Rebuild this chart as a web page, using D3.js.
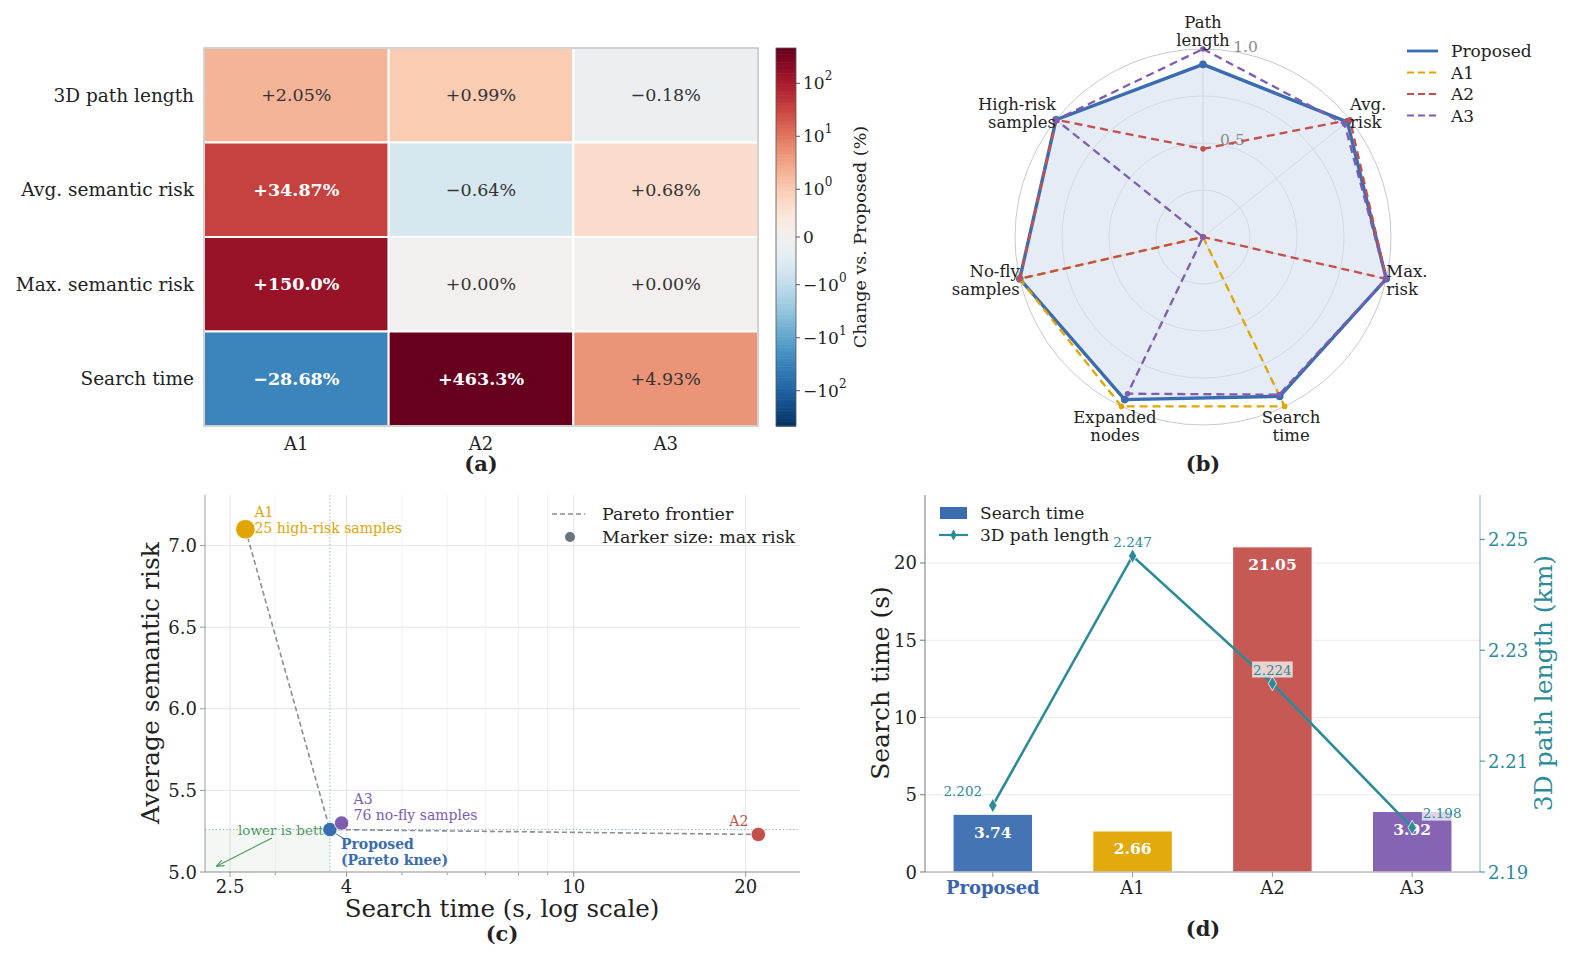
<!DOCTYPE html>
<html>
<head>
<meta charset="utf-8">
<script src="https://cdn.jsdelivr.net/npm/d3@7"></script>
<style>
body { margin: 0; background: #fff; }
text { font-family: "DejaVu Serif", serif; fill: #222; }
</style>
</head>
<body>
<svg id="fig" width="1585" height="965"></svg>
<script>
////////////////////// data //////////////////////
var methods = ['Proposed', 'A1', 'A2', 'A3'];
var baselines = ['A1', 'A2', 'A3'];
var metricRows = ['3D path length', 'Avg. semantic risk', 'Max. semantic risk', 'Search time'];
var pctPath = [2.05, 0.99, -0.18];
var pctAvgRisk = [34.87, -0.64, 0.68];
var pctMaxRisk = [150.0, 0.00, 0.00];
var pctTime = [-28.68, 463.3, 4.93];
var cbTicks = [100, 10, 1, 0, -1, -10, -100];

var radarAxes = ['Path\nlength', 'Avg.\nrisk', 'Max.\nrisk', 'Search\ntime', 'Expanded\nnodes', 'No-fly\nsamples', 'High-risk\nsamples'];
var radarProposed = [0.918, 0.982, 1.0, 0.941, 0.96, 1.0, 1.0];
var radarA1 = [0, 0, 0, 1, 1, 1, 0];
var radarA2 = [0.469, 1, 1, 0, 0, 1, 1];
var radarA3 = [1, 0.963, 1, 0.931, 0.925, 0, 1];
var radarTicks = [0.25, 0.5, 0.75, 1.0];
var radarTickLabels = ['', '0.5', '', '1.0'];

var searchTime = [3.74, 2.66, 21.05, 3.92];
var avgRisk = [5.26, 7.10, 5.23, 5.30];
var maxRisk = [4.0, 10.0, 4.0, 4.0];
var pathLen = [2.202, 2.247, 2.224, 2.198];
var paretoOrder = ['A1', 'Proposed', 'A2'];
var notes = ['', '25 high-risk samples', '', '76 no-fly samples'];

var timeTicks = [2.5, 4, 10, 20];
var timeMinor = [3, 5, 6, 7, 8, 9];
var riskTicks = [5.0, 5.5, 6.0, 6.5, 7.0];
var barTicks = [0, 5, 10, 15, 20];
var lenTicks = [2.19, 2.21, 2.23, 2.25];

var colors = ['#3a6db0', '#e0a500', '#c4504c', '#7e5cb0'];
var teal = '#2b8b99';

var svg = d3.select('#fig');

function panelTag(x, y, t) {
	svg.append('text').attr('x', x).attr('y', y).attr('text-anchor', 'middle')
		.attr('dominant-baseline', 'central').style('font-size', '21px').style('font-weight', 'bold').text(t);
}

////////////////////// (a) heatmap //////////////////////
var heat = [pctPath, pctAvgRisk, pctMaxRisk, pctTime];
var hx = d3.scaleBand().domain(baselines).range([204, 758]);
var hy = d3.scaleBand().domain(metricRows).range([48, 426]);

function symlog(v) {
	var a = Math.abs(v);
	return Math.sign(v) * (a <= 1 ? 0.9 * a : 0.9 + Math.log10(a));
}
var F = symlog(d3.max(heat, function(r) { return d3.max(r, Math.abs); }));
var cbY = d3.scaleLinear().domain([-F, F]).range([426, 48]);
function heatColor(f) { return d3.interpolateRdBu(0.5 - f / F / 2); }
function pct(v) {
	var a = Math.abs(v);
	return (v < 0 ? '\u2212' : '+') + (a >= 100 ? a.toFixed(1) : a.toFixed(2)) + '%';
}

var ga = svg.append('g');
heat.forEach(function(row, ri) {
	row.forEach(function(v, ci) {
		var f = symlog(v);
		var strong = Math.abs(f / F) > 0.6;
		ga.append('rect')
			.attr('x', hx(baselines[ci])).attr('y', hy(metricRows[ri]))
			.attr('width', hx.bandwidth()).attr('height', hy.bandwidth())
			.attr('fill', heatColor(f)).attr('stroke', '#fff').attr('stroke-width', 2);
		ga.append('text')
			.attr('x', hx(baselines[ci]) + hx.bandwidth() / 2)
			.attr('y', hy(metricRows[ri]) + hy.bandwidth() / 2)
			.attr('text-anchor', 'middle').attr('dominant-baseline', 'central')
			.style('font-size', '17.5px')
			.style('font-weight', strong ? 'bold' : 'normal')
			.style('fill', strong ? '#fff' : '#333')
			.text(pct(v));
	});
});
ga.append('rect').attr('x', 204).attr('y', 48).attr('width', 554).attr('height', 378)
	.attr('fill', 'none').attr('stroke', '#b5b5b5').attr('stroke-width', 1.2);
metricRows.forEach(function(m) {
	ga.append('text').attr('x', 194).attr('y', hy(m) + hy.bandwidth() / 2)
		.attr('text-anchor', 'end').attr('dominant-baseline', 'central')
		.style('font-size', '18.5px').text(m);
});
baselines.forEach(function(b) {
	ga.append('text').attr('x', hx(b) + hx.bandwidth() / 2).attr('y', 443)
		.attr('text-anchor', 'middle').attr('dominant-baseline', 'central')
		.style('font-size', '18px').text(b);
});
panelTag(481, 463, '(a)');

// colorbar
var nSlices = 240;
for (var k = 0; k < nSlices; k++) {
	var f0 = -F + 2 * F * k / nSlices, f1 = -F + 2 * F * (k + 1) / nSlices;
	ga.append('rect').attr('x', 776).attr('y', cbY(f1)).attr('width', 20)
		.attr('height', cbY(f0) - cbY(f1) + 0.6).attr('fill', heatColor((f0 + f1) / 2));
}
ga.append('rect').attr('x', 776).attr('y', 48).attr('width', 20).attr('height', 378)
	.attr('fill', 'none').attr('stroke', '#555').attr('stroke-width', 0.8);
cbTicks.forEach(function(t) {
	var y = cbY(symlog(t));
	ga.append('line').attr('x1', 796).attr('x2', 800).attr('y1', y).attr('y2', y).attr('stroke', '#555');
	var tx = ga.append('text').attr('x', 803).attr('y', y)
		.attr('dominant-baseline', 'central').style('font-size', '17px');
	if (t === 0) {
		tx.text('0');
	} else {
		tx.append('tspan').text((t < 0 ? '\u2212' : '') + '10');
		tx.append('tspan').attr('dy', -7).style('font-size', '12px').text(Math.round(Math.log10(Math.abs(t))));
	}
});
ga.append('text').attr('transform', 'translate(860,237) rotate(-90)')
	.attr('text-anchor', 'middle').attr('dominant-baseline', 'central')
	.style('font-size', '17.5px').text('Change vs. Proposed (%)');

////////////////////// (b) radar //////////////////////
var cx = 1203, cy = 237, R = 188;
var rr = d3.scaleLinear().domain([0, 1]).range([0, R]);
var nAx = radarAxes.length;
function ang(i) { return i * 2 * Math.PI / nAx; }
var gb = svg.append('g').attr('transform', 'translate(' + cx + ',' + cy + ')');
var radarSeries = [radarProposed, radarA1, radarA2, radarA3];

var radial = d3.lineRadial()
	.angle(function(d, i) { return ang(i); })
	.radius(function(d) { return rr(d); })
	.curve(d3.curveLinearClosed);

gb.append('path').attr('d', radial(radarProposed)).attr('fill', colors[0]).attr('fill-opacity', 0.13);

radarTicks.forEach(function(t) {
	gb.append('circle').attr('r', rr(t)).attr('fill', 'none')
		.attr('stroke', t === 1 ? '#bfc3cb' : '#d3d7de').attr('stroke-width', 0.9);
});
d3.range(nAx).forEach(function(i) {
	gb.append('line').attr('x1', 0).attr('y1', 0)
		.attr('x2', R * Math.sin(ang(i))).attr('y2', -R * Math.cos(ang(i)))
		.attr('stroke', '#d3d7de').attr('stroke-width', 0.9);
});
radarTicks.forEach(function(t, i) {
	if (!radarTickLabels[i]) return;
	var a = 0.14;
	gb.append('text').attr('x', rr(t) * Math.sin(a) + 4).attr('y', -rr(t) * Math.cos(a) - 4)
		.attr('dominant-baseline', 'central').style('font-size', '15.5px').style('fill', '#8a8a8a')
		.text(radarTickLabels[i]);
});

radarSeries.forEach(function(s, si) {
	gb.append('path').attr('d', radial(s)).attr('fill', 'none')
		.attr('stroke', colors[si]).attr('stroke-width', si === 0 ? 3.4 : 2.3)
		.attr('stroke-dasharray', si === 0 ? null : '8,5');
	s.forEach(function(v, i) {
		gb.append('circle').attr('cx', rr(v) * Math.sin(ang(i))).attr('cy', -rr(v) * Math.cos(ang(i)))
			.attr('r', si === 0 ? 3.8 : 2.8).attr('fill', colors[si]);
	});
});

radarAxes.forEach(function(lab, i) {
	var s = Math.sin(ang(i)), c = Math.cos(ang(i));
	var px = R * s, py = -R * c;
	var lines = lab.split('\n');
	var t = gb.append('text').style('font-size', '16.5px');
	var x, y0, anchor;
	if (Math.abs(s) > 0.6) {
		anchor = s > 0 ? 'start' : 'end';
		x = px;
		y0 = py - c * 10 - 4;
	} else if (c > 0) {
		anchor = 'middle';
		x = px;
		y0 = py - 3 - 18;
	} else {
		anchor = 'middle';
		x = px + s * 15;
		y0 = py + 17;
	}
	t.attr('text-anchor', anchor);
	lines.forEach(function(l, li) {
		t.append('tspan').attr('x', x).attr('y', y0 + li * 18).text(l);
	});
});

// radar legend
var gl = svg.append('g').attr('transform', 'translate(1407,51)');
methods.forEach(function(m, i) {
	gl.append('line').attr('x1', 0).attr('x2', 31).attr('y1', i * 21.5).attr('y2', i * 21.5)
		.attr('stroke', colors[i]).attr('stroke-width', i === 0 ? 2.8 : 2)
		.attr('stroke-dasharray', i === 0 ? null : '7,4');
	gl.append('text').attr('x', 44).attr('y', i * 21.5).attr('dominant-baseline', 'central')
		.style('font-size', '17px').text(m);
});
panelTag(1203, 463, '(b)');

////////////////////// (c) scatter //////////////////////
var cL = 205, cR = 800, cT = 495, cB = 872;
var sx = d3.scaleLog().domain([2.26, 24.9]).range([cL, cR]);
var sy = d3.scaleLinear().domain([5.0, 7.31]).range([cB, cT]);
var msize = d3.scaleLinear().domain([4, 10]).range([7.2, 9.8]);
var gc = svg.append('g');

timeMinor.forEach(function(t) {
	gc.append('line').attr('x1', sx(t)).attr('x2', sx(t)).attr('y1', cT).attr('y2', cB)
		.attr('stroke', '#eeeff3').attr('stroke-width', 0.8);
	gc.append('line').attr('x1', sx(t)).attr('x2', sx(t)).attr('y1', cB).attr('y2', cB + 3)
		.attr('stroke', '#999');
});
timeTicks.forEach(function(t) {
	gc.append('line').attr('x1', sx(t)).attr('x2', sx(t)).attr('y1', cT).attr('y2', cB)
		.attr('stroke', '#e3e5ea').attr('stroke-width', 1);
});
riskTicks.forEach(function(t) {
	gc.append('line').attr('x1', cL).attr('x2', cR).attr('y1', sy(t)).attr('y2', sy(t))
		.attr('stroke', '#e3e5ea').attr('stroke-width', 1);
});

var pIdx = methods.indexOf('Proposed');
// "better" region
gc.append('rect').attr('x', cL).attr('y', sy(avgRisk[pIdx]))
	.attr('width', sx(searchTime[pIdx]) - cL).attr('height', cB - sy(avgRisk[pIdx]))
	.attr('fill', '#2e8b3e').attr('fill-opacity', 0.06);
gc.append('clipPath').attr('id', 'betterClip').append('rect')
	.attr('x', cL).attr('y', cT).attr('width', sx(searchTime[pIdx]) - cL - 6).attr('height', cB - cT);
gc.append('text').attr('x', 238).attr('y', sy(avgRisk[pIdx])).attr('clip-path', 'url(#betterClip)')
	.attr('dominant-baseline', 'central').style('font-size', '13.5px').style('fill', '#4b9a5b')
	.text('lower is better');
svg.append('defs').append('marker').attr('id', 'arrG').attr('viewBox', '0 0 10 10')
	.attr('refX', 9).attr('refY', 5).attr('markerWidth', 7).attr('markerHeight', 7).attr('orient', 'auto')
	.append('path').attr('d', 'M0,1 L10,5 L0,9').attr('fill', 'none').attr('stroke', '#4b9a5b').attr('stroke-width', 1.4);
gc.append('line').attr('x1', 272).attr('y1', 838).attr('x2', 217).attr('y2', 866)
	.attr('stroke', '#4b9a5b').attr('stroke-width', 1.1).attr('marker-end', 'url(#arrG)');

// reference lines through Proposed
gc.append('line').attr('x1', sx(searchTime[pIdx])).attr('x2', sx(searchTime[pIdx])).attr('y1', cT).attr('y2', cB)
	.attr('stroke', '#9fb3d6').attr('stroke-width', 1).attr('stroke-dasharray', '1.5,2');
gc.append('line').attr('x1', cL).attr('x2', cR).attr('y1', sy(avgRisk[pIdx])).attr('y2', sy(avgRisk[pIdx]))
	.attr('stroke', '#9fb3d6').attr('stroke-width', 1).attr('stroke-dasharray', '1.5,2');

// axes
gc.append('line').attr('x1', cL).attr('x2', cL).attr('y1', cT).attr('y2', cB).attr('stroke', '#9a9a9a');
gc.append('line').attr('x1', cL).attr('x2', cR).attr('y1', cB).attr('y2', cB).attr('stroke', '#9a9a9a');
timeTicks.forEach(function(t) {
	gc.append('line').attr('x1', sx(t)).attr('x2', sx(t)).attr('y1', cB).attr('y2', cB + 5).attr('stroke', '#999');
	gc.append('text').attr('x', sx(t)).attr('y', cB + 14).attr('text-anchor', 'middle')
		.attr('dominant-baseline', 'central').style('font-size', '18px').text(t);
});
riskTicks.forEach(function(t) {
	gc.append('line').attr('x1', cL - 5).attr('x2', cL).attr('y1', sy(t)).attr('y2', sy(t)).attr('stroke', '#999');
	gc.append('text').attr('x', cL - 8).attr('y', sy(t)).attr('text-anchor', 'end')
		.attr('dominant-baseline', 'central').style('font-size', '18px').text(t.toFixed(1));
});
gc.append('text').attr('x', 502).attr('y', 908).attr('text-anchor', 'middle')
	.attr('dominant-baseline', 'central').style('font-size', '24.5px').text('Search time (s, log scale)');
gc.append('text').attr('transform', 'translate(150,683) rotate(-90)').attr('text-anchor', 'middle')
	.attr('dominant-baseline', 'central').style('font-size', '25px').text('Average semantic risk');

// pareto frontier
var pareto = paretoOrder.map(function(m) { var i = methods.indexOf(m); return [searchTime[i], avgRisk[i]]; });
gc.append('path').attr('d', d3.line().x(function(d) { return sx(d[0]); }).y(function(d) { return sy(d[1]); })(pareto))
	.attr('fill', 'none').attr('stroke', '#8a8d93').attr('stroke-width', 1.6).attr('stroke-dasharray', '5,3');

// Proposed connector
gc.append('line').attr('x1', sx(searchTime[pIdx]) + 4).attr('y1', sy(avgRisk[pIdx]) + 3)
	.attr('x2', sx(searchTime[pIdx]) + 14).attr('y2', sy(avgRisk[pIdx]) + 9)
	.attr('stroke', '#3a6db0').attr('stroke-width', 1);

methods.forEach(function(m, i) {
	gc.append('circle').attr('cx', sx(searchTime[i])).attr('cy', sy(avgRisk[i])).attr('r', msize(maxRisk[i]))
		.attr('fill', colors[i]).attr('stroke', '#fff').attr('stroke-width', 0.8);
});
// annotations
function note(x, y, lines, color, anchor, bold) {
	var t = gc.append('text').attr('text-anchor', anchor || 'start')
		.style('font-size', '14px').style('fill', color).style('font-weight', bold ? 'bold' : 'normal');
	lines.forEach(function(l, li) {
		t.append('tspan').attr('x', x).attr('y', y + li * 16).text(l);
	});
}
var i1 = methods.indexOf('A1'), i2 = methods.indexOf('A2'), i3 = methods.indexOf('A3');
note(sx(searchTime[i1]) + 9, sy(avgRisk[i1]) - 12, ['A1', notes[i1]], colors[i1]);
note(sx(searchTime[i3]) + 12, sy(avgRisk[i3]) - 19, ['A3', notes[i3]], colors[i3]);
note(sx(searchTime[pIdx]) + 11, sy(avgRisk[pIdx]) + 19, ['Proposed', '(Pareto knee)'], colors[pIdx], 'start', true);
note(sx(searchTime[i2]) - 10, sy(avgRisk[i2]) - 8, ['A2'], colors[i2], 'end');

// legend
gc.append('line').attr('x1', 552).attr('x2', 585).attr('y1', 514).attr('y2', 514)
	.attr('stroke', '#8a8d93').attr('stroke-width', 1.6).attr('stroke-dasharray', '5,3');
gc.append('text').attr('x', 602).attr('y', 514).attr('dominant-baseline', 'central')
	.style('font-size', '17.5px').text('Pareto frontier');
gc.append('circle').attr('cx', 570).attr('cy', 537).attr('r', 5).attr('fill', '#6b7280');
gc.append('text').attr('x', 602).attr('y', 537).attr('dominant-baseline', 'central')
	.style('font-size', '17.5px').text('Marker size: max risk');
panelTag(502, 933, '(c)');

////////////////////// (d) bars + line //////////////////////
var dL = 925, dR = 1480, dT = 495, dB = 872;
var bx = d3.scaleBand().domain(methods).range([dL, dR]).paddingInner(0.43).paddingOuter(0.2);
var by = d3.scaleLinear().domain([0, 24.4]).range([dB, dT]);
var ly = d3.scaleLinear().domain([2.19, 2.258]).range([dB, dT]);
var gd = svg.append('g');

barTicks.forEach(function(t) {
	if (t > 0) gd.append('line').attr('x1', dL).attr('x2', dR).attr('y1', by(t)).attr('y2', by(t))
		.attr('stroke', '#e8e9ec').attr('stroke-width', 1.2);
});
methods.forEach(function(m, i) {
	gd.append('rect').attr('x', bx(m)).attr('y', by(searchTime[i]))
		.attr('width', bx.bandwidth()).attr('height', dB - by(searchTime[i]))
		.attr('fill', colors[i]).attr('fill-opacity', 0.95).attr('stroke', '#fff').attr('stroke-width', 1.2);
	gd.append('text').attr('x', bx(m) + bx.bandwidth() / 2).attr('y', by(searchTime[i]) + 18)
		.attr('text-anchor', 'middle').attr('dominant-baseline', 'central')
		.style('font-size', '15.5px').style('font-weight', 'bold').style('fill', '#fff')
		.text(searchTime[i].toFixed(2));
});

// axes
gd.append('line').attr('x1', dL).attr('x2', dL).attr('y1', dT).attr('y2', dB).attr('stroke', '#777');
gd.append('line').attr('x1', dL).attr('x2', dR).attr('y1', dB).attr('y2', dB).attr('stroke', '#9a9a9a');
gd.append('line').attr('x1', dR).attr('x2', dR).attr('y1', dT).attr('y2', dB).attr('stroke', teal).attr('stroke-opacity', 0.6);
barTicks.forEach(function(t) {
	gd.append('line').attr('x1', dL - 5).attr('x2', dL).attr('y1', by(t)).attr('y2', by(t)).attr('stroke', '#777');
	gd.append('text').attr('x', dL - 8).attr('y', by(t)).attr('text-anchor', 'end')
		.attr('dominant-baseline', 'central').style('font-size', '18px').text(t);
});
lenTicks.forEach(function(t) {
	gd.append('line').attr('x1', dR).attr('x2', dR + 5).attr('y1', ly(t)).attr('y2', ly(t)).attr('stroke', teal);
	gd.append('text').attr('x', dR + 8).attr('y', ly(t)).attr('dominant-baseline', 'central')
		.style('font-size', '18px').style('fill', teal).text(t.toFixed(2));
});
methods.forEach(function(m, i) {
	gd.append('line').attr('x1', bx(m) + bx.bandwidth() / 2).attr('x2', bx(m) + bx.bandwidth() / 2)
		.attr('y1', dB).attr('y2', dB + 5).attr('stroke', '#999');
	gd.append('text').attr('x', bx(m) + bx.bandwidth() / 2).attr('y', dB + 15)
		.attr('text-anchor', 'middle').attr('dominant-baseline', 'central')
		.style('font-size', '18px').style('font-weight', i === 0 ? 'bold' : 'normal')
		.style('fill', i === 0 ? '#3a66ad' : '#222').text(m);
});
gd.append('text').attr('transform', 'translate(880,683) rotate(-90)').attr('text-anchor', 'middle')
	.attr('dominant-baseline', 'central').style('font-size', '25px').text('Search time (s)');
gd.append('text').attr('transform', 'translate(1543,683) rotate(-90)').attr('text-anchor', 'middle')
	.attr('dominant-baseline', 'central').style('font-size', '25px').style('fill', teal).text('3D path length (km)');

// path length line
var lineGen = d3.line()
	.x(function(d, i) { return bx(methods[i]) + bx.bandwidth() / 2; })
	.y(function(d) { return ly(d); });
gd.append('path').attr('d', lineGen(pathLen)).attr('fill', 'none').attr('stroke', teal).attr('stroke-width', 2.6);
var diamond = d3.symbol().type(d3.symbolDiamond).size(60);
pathLen.forEach(function(v, i) {
	var x = bx(methods[i]) + bx.bandwidth() / 2, y = ly(v);
	gd.append('path').attr('d', diamond).attr('transform', 'translate(' + x + ',' + y + ')')
		.attr('fill', teal).attr('stroke', '#fff').attr('stroke-width', 0.8);
	var dx = i === 0 ? -30 : (i === pathLen.length - 1 ? 30 : 0);
	var dy = i === pathLen.length - 1 ? -15 : -14;
	var lab = gd.append('g');
	var t = lab.append('text').attr('x', x + dx).attr('y', y + dy).attr('text-anchor', 'middle')
		.attr('dominant-baseline', 'central').style('font-size', '13.5px').style('fill', teal).text(v.toFixed(3));
	var bb = t.node().getBBox();
	lab.insert('rect', 'text').attr('x', bb.x - 1).attr('y', bb.y).attr('width', bb.width + 2).attr('height', bb.height)
		.attr('fill', '#fff').attr('fill-opacity', 0.72);
});

// legend
gd.append('rect').attr('x', 940).attr('y', 507).attr('width', 27).attr('height', 12).attr('fill', colors[0]);
gd.append('text').attr('x', 980).attr('y', 513).attr('dominant-baseline', 'central')
	.style('font-size', '17px').text('Search time');
gd.append('line').attr('x1', 939).attr('x2', 968).attr('y1', 535).attr('y2', 535).attr('stroke', teal).attr('stroke-width', 2.2);
gd.append('path').attr('d', d3.symbol().type(d3.symbolDiamond).size(35)).attr('transform', 'translate(953.5,535)').attr('fill', teal);
gd.append('text').attr('x', 980).attr('y', 535).attr('dominant-baseline', 'central')
	.style('font-size', '17px').text('3D path length');
panelTag(1203, 928, '(d)');
</script>
</body>
</html>
